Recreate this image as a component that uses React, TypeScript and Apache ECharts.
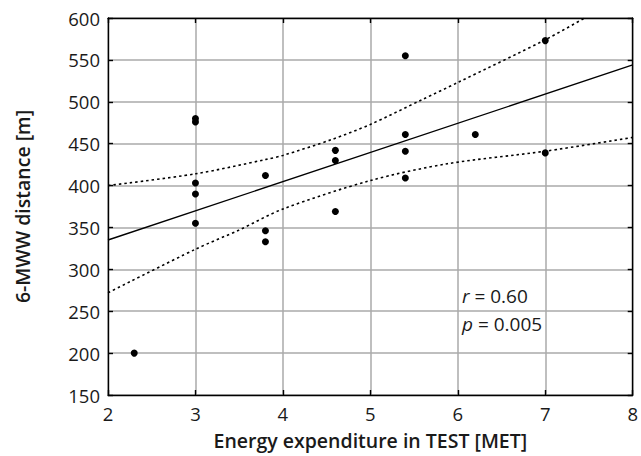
import React, { useEffect, useRef } from "react";
import * as echarts from "echarts";

// Observed points: [energy expenditure (MET), 6-MWW distance (m)]
const pointsX = [3, 3, 3, 3, 3, 3.8, 3.8, 3.8, 2.3, 4.6, 4.6, 4.6, 5.4, 5.4, 5.4, 5.4, 6.2, 7, 7];
const pointsY = [480, 476, 403, 390, 355, 412, 346, 333, 200, 442, 430, 369, 555, 461, 441, 409, 461, 573, 439];

// Regression line
const fitX = [2, 8];
const fitY = [335, 544];

// Confidence band curves
const upperX = [2, 3, 3.8, 4, 4.56, 5, 5.6, 6, 7, 7.45];
const upperY = [400, 414, 431, 436, 455, 473, 503, 523, 574, 600];
const lowerX = [2, 3, 3.5, 4, 5, 5.88, 7, 8];
const lowerY = [272, 324, 347, 372, 406, 426, 441, 457.5];

const xTicks = { min: 2, max: 8, interval: 1 };
const yTicks = { min: 150, max: 600, interval: 50 };

const xName = "Energy expenditure in TEST [MET]";
const yName = "6-MWW distance [m]";
const rText = "0.60";
const pText = "0.005";

const FONT = "'Open Sans', 'Noto Sans', sans-serif";
const TEXT = "#1a1a1a";

export default function App() {
  const ref = useRef<HTMLDivElement>(null);

  useEffect(() => {
    if (!ref.current) return;
    const chart = echarts.init(ref.current, null, { renderer: "svg" });
    const zip = (xs: number[], ys: number[]) => xs.map((x, i) => [x, ys[i]]);
    const axisLabel = { color: TEXT, fontSize: 18.5, fontFamily: FONT };
    const axisLine = { show: true, lineStyle: { color: "#000", width: 1.4 } };
    const axisTick = { show: true, inside: true, length: 5, lineStyle: { color: "#000", width: 1.4 } };
    const splitLine = { show: true, lineStyle: { color: "#aaaaaa", width: 1.5 } };
    const nameStyle = { color: TEXT, fontSize: 19.5, fontWeight: 600, fontFamily: FONT };
    const annot = (label: string, value: string, top: number) => ({
      type: "text",
      left: 462,
      top,
      style: {
        text: "{i|" + label + "} = " + value,
        fontSize: 19,
        fontFamily: FONT,
        fill: TEXT,
        rich: { i: { fontStyle: "italic", fontSize: 19, fontFamily: FONT, fill: TEXT } },
      },
    });
    chart.setOption({
      animation: false,
      backgroundColor: "#fff",
      grid: { left: 108, right: 4, top: 18, bottom: 61, containLabel: false },
      xAxis: [
        {
          type: "value",
          ...xTicks,
          name: xName,
          nameLocation: "middle",
          nameGap: 35,
          nameTextStyle: nameStyle,
          axisLine,
          axisTick,
          axisLabel: { ...axisLabel, margin: 9 },
          splitLine,
        },
        {
          type: "value",
          position: "top",
          ...xTicks,
          axisLine,
          axisTick,
          axisLabel: { show: false },
          splitLine: { show: false },
        },
      ],
      yAxis: [
        {
          type: "value",
          ...yTicks,
          name: yName,
          nameLocation: "middle",
          nameGap: 76,
          nameTextStyle: nameStyle,
          axisLine,
          axisTick,
          axisLabel: { ...axisLabel, margin: 8 },
          splitLine,
        },
        {
          type: "value",
          position: "right",
          ...yTicks,
          axisLine,
          axisTick,
          axisLabel: { show: false },
          splitLine: { show: false },
        },
      ],
      series: [
        {
          type: "line",
          data: zip(upperX, upperY),
          smooth: 0.3,
          showSymbol: false,
          lineStyle: { color: "#000", width: 1.6, type: [2.5, 3] },
          clip: true,
        },
        {
          type: "line",
          data: zip(lowerX, lowerY),
          smooth: 0.3,
          showSymbol: false,
          lineStyle: { color: "#000", width: 1.6, type: [2.5, 3] },
          clip: true,
        },
        {
          type: "line",
          data: zip(fitX, fitY),
          showSymbol: false,
          lineStyle: { color: "#000", width: 1.4 },
        },
        {
          type: "scatter",
          data: zip(pointsX, pointsY),
          symbol: "circle",
          symbolSize: 7,
          itemStyle: { color: "#000", opacity: 1 },
        },
      ],
      graphic: [annot("r", rText, 286), annot("p", pText, 314)],
    });
    return () => chart.dispose();
  }, []);

  return (
    <div
      ref={ref}
      style={{ position: "fixed", left: 0, top: 0, width: 641, height: 456, background: "#fff" }}
    />
  );
}
